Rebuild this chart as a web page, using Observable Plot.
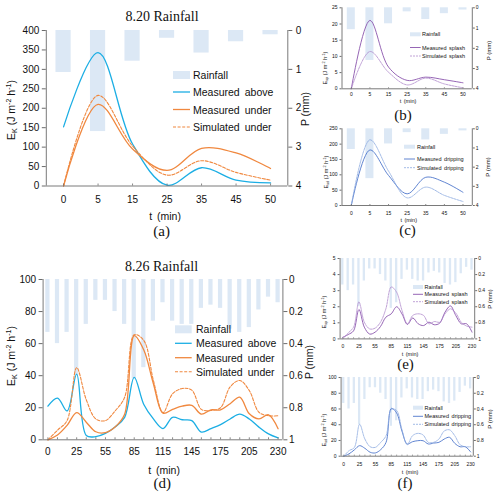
<!DOCTYPE html>
<html><head><meta charset="utf-8">
<script src="https://cdn.jsdelivr.net/npm/d3@7"></script>
<script src="https://cdn.jsdelivr.net/npm/@observablehq/plot@0.6"></script>
<style>
body{margin:0;background:#fff;}
#root{position:relative;width:500px;height:495px;overflow:hidden;background:#fff;}
</style></head><body><div id="root"></div>
<script>
// ---------- data: 8.20 rainfall ----------
const catsA = [0, 5, 15, 25, 35, 45, 50];
const rainA = [1.08, 2.6, 0.79, 0.2, 0.58, 0.29, 0.11];           // P (mm)
const aboveA = [152, 343, 108, 2, 47, 15, 8];                      // Measured above
const underA = [0, 210, 95, 40, 97, 85, 45];                       // Measured under
const simUnderA = [0, 233, 103, 28, 65, 35, 15];                   // Simulated under
const splashMeasB = [0, 21.1, 6.7, 2.6, 3.6, 2.8, 1.85];
const splashSimB = [0, 11.5, 5.1, 1.2, 3.3, 1.5, 0.3];
const dripMeasC = [0, 181, 98, 38, 92, 76, 43];
const dripSimC = [0, 214, 112, 25, 60, 33, 13];

// ---------- data: 8.26 rainfall ----------
const catsD = [0, 5, 15, 25, 35, 45, 55, 65, 75, 85, 95, 105, 115, 125, 135, 145, 155, 165, 175, 185, 195, 205, 215, 225, 230];
const rainD = [0.33, 0.40, 0.33, 0.60, 0.28, 0.13, 0.13, 0.20, 0.28, 0.62, 0.55, 0.26, 0.145, 0.26, 0.28, 0.28, 0.18, 0.16, 0.18, 0.31, 0.33, 0.30, 0.19, 0.11, 0.145];
const aboveD = [21, 26, 18, 41, 2.7, 2, 4, 8, 14, 39, 22, 13, 7, 14, 12.5, 12, 4.8, 7, 9.5, 13, 16, 13, 7.9, 3.7, 1.2];
const underD = [0, 3, 9, 17, 11, 5, 4.5, 8, 16, 65, 56, 35, 16.6, 19, 21, 21.5, 16, 18.7, 18.7, 22.5, 26.6, 16.2, 13, 15.6, 6.9];
const simUnderD = [0, 6, 12, 45, 25, 13, 12, 18, 26.5, 65.5, 62, 37, 17, 28.7, 32, 31, 19, 18.3, 20, 33, 37, 30.7, 17.2, 15, 15];
const splashMeasE = [0.1, 0.27, 0.5, 1.83, 0.73, 0.3, 0.42, 0.77, 1.35, 1.56, 2.0, 1.55, 0.9, 1.3, 0.94, 0.83, 1.04, 0.88, 0.98, 1.67, 2.05, 1.45, 0.94, 0.94, 0.42];
const splashSimE = [0, 0.37, 0.73, 2.3, 1.04, 0.62, 0.67, 1.04, 1.87, 3.23, 2.9, 1.77, 0.94, 1.46, 1.56, 1.46, 0.94, 1.08, 1.04, 1.56, 1.87, 1.6, 1.04, 0.8, 0.73];
const dripMeasF = [0, 3, 8, 13.4, 10, 5, 4.2, 8.4, 17.6, 60.7, 55, 32, 15.5, 18.4, 19.7, 19.7, 15.5, 16.7, 17.6, 21.8, 24, 16.3, 12, 12, 5.4];
const dripSimF = [0, 7, 11, 40.6, 21.8, 12, 11.3, 17.6, 26, 59.4, 58, 34, 14.6, 26, 29, 27, 17.6, 17.6, 21.8, 32, 33.5, 26, 14.6, 12, 12];

// ---------- tick labels ----------
const eTicksA = [0, 50, 100, 150, 200, 250, 300, 350, 400];
const eTicksB = [0, 5, 10, 15, 20, 25];
const eTicksC = [0, 50, 100, 150, 200, 250];
const eTicksD = [0, 20, 40, 60, 80, 100];
const eTicksE = [0, 1, 2, 3, 4, 5];
const eTicksF = [0, 20, 40, 60, 80, 100];
const pTicks4 = [0, 1, 2, 3, 4];
const pTicks1 = [0, 0.2, 0.4, 0.6, 0.8, 1];
const xLabelsD = [0, 25, 55, 85, 115, 145, 175, 205, 230];

const W = 500, H = 495;
const FONT = '"Liberation Sans", Arial, sans-serif';
const SERIF = '"Liberation Serif", "Times New Roman", serif';
const RAIN = "#dce8f5";
const AXIS = "#6b6b6b";
const C_ABOVE = "#1caee4", C_ORANGE = "#f0883f";
const C_SPL = "#8a55ad", C_SPL2 = "#b08acb";
const C_DRP = "#4f77cc", C_DRP2 = "#8ca9e0";

function fmt(v) { return String(Math.round(v * 100) / 100); }

function panel(o) {
  const n = o.cats.length, idx = d3.range(n);
  const [L, R, T, B] = o.frame;
  const Emax = o.Emax, Pmax = o.Pmax;
  const labelIdx = idx.filter(i => o.xLabels.includes(o.cats[i]));
  const marks = [
    Plot.rectY(idx, {x1: i => i - o.bw / 2, x2: i => i + o.bw / 2, y1: Emax, y2: i => Emax * (1 - o.rain[i] / Pmax), fill: RAIN}),
    ...o.series.map(s => Plot.line(idx, {x: i => i, y: i => s.values[i], stroke: s.color, strokeWidth: s.width, strokeDasharray: s.dash, curve: "catmull-rom"})),
    Plot.ruleX([-0.5, n - 0.5], {stroke: AXIS, strokeWidth: 0.9}),
    Plot.ruleY([0], {stroke: AXIS, strokeWidth: 0.9}),
    Plot.ruleX(idx, {x: i => i, y1: 0, y2: Emax * o.xt / (B - T), stroke: AXIS, strokeWidth: 0.8}),
    Plot.axisY(o.eTicks, {anchor: "left", tickSize: o.ts, tickPadding: o.tpL, label: null, stroke: AXIS, fill: "#111"}),
    Plot.axisY(o.pTicks.map(p => Emax * (1 - p / Pmax)), {anchor: "right", tickSize: o.ts, tickPadding: o.tpR, tickFormat: d => fmt(Pmax * (1 - d / Emax)), label: null, stroke: AXIS, fill: "#111"}),
    Plot.axisX(labelIdx, {anchor: "bottom", tickSize: 0, tickPadding: o.tpX, tickFormat: i => String(o.cats[i]), label: null, fill: "#111"})
  ];
  const svg = Plot.plot({
    width: W, height: H,
    marginLeft: L, marginRight: W - R, marginTop: T, marginBottom: H - B,
    x: {type: "linear", domain: [-0.5, n - 0.5], axis: null},
    y: {type: "linear", domain: [0, Emax], axis: null},
    style: {background: "transparent", overflow: "visible", fontFamily: FONT, fontSize: o.fs + "px", color: "#111"},
    marks
  });
  svg.style.position = "absolute"; svg.style.left = "0px"; svg.style.top = "0px";
  return svg;
}

const root = document.getElementById("root");
const big = {bw: 0.44, fs: 10, ts: 4, tpL: 3, tpR: 4, xt: 2};
const small = {bw: 0.43, fs: 5, ts: 2, tpL: 2.5, tpR: 1.5, xt: 1};

root.append(panel({...big, cats: catsA, xLabels: catsA, rain: rainA, frame: [45.8, 287.3, 30, 185.5], Emax: 400, Pmax: 4, eTicks: eTicksA, pTicks: pTicks4, tpX: 10,
  series: [{values: aboveA, color: C_ABOVE, width: 1.3}, {values: underA, color: C_ORANGE, width: 1.3}, {values: simUnderA, color: C_ORANGE, width: 1.1, dash: "3,1.6"}]}));
root.append(panel({...small, cats: catsA, xLabels: catsA, rain: rainA, frame: [341.5, 471.8, 7.3, 88.3], Emax: 25, Pmax: 4, eTicks: eTicksB, pTicks: pTicks4, tpX: 3.8,
  series: [{values: splashMeasB, color: C_SPL, width: 0.9}, {values: splashSimB, color: C_SPL2, width: 0.8, dash: "2,1"}]}));
root.append(panel({...small, cats: catsA, xLabels: catsA, rain: rainA, frame: [341.5, 471.8, 128.3, 205], Emax: 250, Pmax: 4, eTicks: eTicksC, pTicks: pTicks4, tpX: 5.8,
  series: [{values: dripMeasC, color: C_DRP, width: 0.9}, {values: dripSimC, color: C_DRP2, width: 0.8, dash: "2,1"}]}));
root.append(panel({...big, tpR: 2, cats: catsD, xLabels: xLabelsD, rain: rainD, frame: [42.6, 282.4, 279, 439.3], Emax: 100, Pmax: 1, eTicks: eTicksD, pTicks: pTicks1, tpX: 8.5,
  series: [{values: aboveD, color: C_ABOVE, width: 1.3}, {values: underD, color: C_ORANGE, width: 1.3}, {values: simUnderD, color: C_ORANGE, width: 1.1, dash: "3,1.6"}]}));
root.append(panel({...small, cats: catsD, xLabels: xLabelsD, rain: rainD, frame: [339.6, 474.2, 258, 338.4], Emax: 5, Pmax: 1, eTicks: eTicksE, pTicks: pTicks1, tpX: 5.8,
  series: [{values: splashMeasE, color: C_SPL, width: 0.9}, {values: splashSimE, color: C_SPL2, width: 0.8, dash: "2,1"}]}));
root.append(panel({...small, cats: catsD, xLabels: xLabelsD, rain: rainD, frame: [340.6, 472.8, 377, 455.7], Emax: 100, Pmax: 1, eTicks: eTicksF, pTicks: pTicks1, tpX: 6.3,
  series: [{values: dripMeasF, color: C_DRP, width: 0.9}, {values: dripSimF, color: C_DRP2, width: 0.8, dash: "2,1"}]}));

// ---------- overlay text & legends ----------
const ov = d3.select(root).append("svg").attr("width", W).attr("height", H)
  .style("position", "absolute").style("left", 0).style("top", 0)
  .attr("font-family", FONT).attr("fill", "#111");

function txt(x, y, s, fs, opts = {}) {
  return ov.append("text").attr("x", x).attr("y", y).attr("font-size", fs)
    .attr("text-anchor", opts.anchor || "middle")
    .attr("dominant-baseline", opts.base || "central")
    .attr("font-family", opts.family || FONT)
    .attr("word-spacing", opts.ws || 0)
    .text(s);
}
function eLabel(cx, cy, fs, sub) {
  const t = ov.append("text").attr("transform", `translate(${cx + fs * 0.35},${cy}) rotate(-90)`)
    .attr("text-anchor", "middle").attr("font-size", fs);
  t.append("tspan").text("E");
  t.append("tspan").attr("font-size", fs * 0.68).attr("dy", fs * 0.22).text(sub);
  t.append("tspan").attr("dy", -fs * 0.22).text(" (J m");
  t.append("tspan").attr("font-size", fs * 0.68).attr("dy", -fs * 0.38).text("-2");
  t.append("tspan").attr("dy", fs * 0.38).text(" h");
  t.append("tspan").attr("font-size", fs * 0.68).attr("dy", -fs * 0.38).text("-1");
  t.append("tspan").attr("dy", fs * 0.38).text(")");
}
function pLabel(cx, cy, fs) {
  ov.append("text").attr("transform", `translate(${cx + fs * 0.35},${cy}) rotate(-90)`)
    .attr("text-anchor", "middle").attr("font-size", fs).text("P (mm)");
}
function legend(x1, x2, tx, fs, sw, items) {
  items.forEach(it => {
    if (it.rain) {
      ov.append("rect").attr("x", x1).attr("y", it.y - sw / 2).attr("width", x2 - x1).attr("height", sw).attr("fill", RAIN);
    } else {
      ov.append("line").attr("x1", x1).attr("x2", x2).attr("y1", it.y).attr("y2", it.y)
        .attr("stroke", it.color).attr("stroke-width", it.w).attr("stroke-dasharray", it.dash || null);
    }
    txt(tx, it.y, it.label, fs, {anchor: "start", ws: fs * 0.2});
  });
}

// panel (a)
txt(162, 16.5, "8.20 Rainfall", 14, {family: SERIF});
eLabel(11.5, 110, 10.5, "K");
pLabel(305, 109, 10.5);
txt(165, 216, "t  (min)", 10.5, {ws: 2});
txt(161.7, 230.5, "(a)", 15, {family: SERIF});
legend(173, 190, 193, 10.5, 8, [
  {rain: true, y: 75, label: "Rainfall"},
  {y: 92, color: C_ABOVE, w: 1.3, label: "Measured above"},
  {y: 109.5, color: C_ORANGE, w: 1.3, label: "Measured under"},
  {y: 127, color: C_ORANGE, w: 1.1, dash: "3,1.6", label: "Simulated under"}
]);
// panel (d)
txt(161.5, 266.5, "8.26 Rainfall", 14, {family: SERIF});
eLabel(11.5, 356, 10.5, "K");
pLabel(309, 362, 10.5);
txt(164, 470, "t  (min)", 10.5, {ws: 2});
txt(162.3, 482.7, "(d)", 15, {family: SERIF});
legend(175, 191.7, 196, 10.5, 8, [
  {rain: true, y: 329.3, label: "Rainfall"},
  {y: 343.3, color: C_ABOVE, w: 1.3, label: "Measured above"},
  {y: 357.7, color: C_ORANGE, w: 1.3, label: "Measured under"},
  {y: 371.7, color: C_ORANGE, w: 1.1, dash: "3,1.6", label: "Simulated under"}
]);
// panel (b)
eLabel(325, 68, 5.5, "sp");
pLabel(489, 50.5, 6);
txt(408, 101.3, "t  (min)", 5.5, {ws: 1});
txt(403, 115, "(b)", 15, {family: SERIF});
legend(410, 420.7, 422, 5.5, 4, [
  {rain: true, y: 34.3, label: "Rainfall"},
  {y: 47.5, color: C_SPL, w: 0.9, label: "Measured splash"},
  {y: 56, color: C_SPL2, w: 0.8, dash: "2,1", label: "Simulated splash"}
]);
// panel (c)
eLabel(326, 172, 5.5, "sd");
pLabel(488, 167, 6);
txt(408.7, 220.3, "t  (min)", 5.5, {ws: 1});
txt(407.5, 230, "(c)", 15, {family: SERIF});
legend(404, 415, 417, 5.5, 4, [
  {rain: true, y: 146.7, label: "Rainfall"},
  {y: 159, color: C_DRP, w: 0.9, label: "Measured dripping"},
  {y: 167.7, color: C_DRP2, w: 0.8, dash: "2,1", label: "Simulated dripping"}
]);
// panel (e)
eLabel(324, 312, 5.5, "sp");
pLabel(489.7, 299, 6);
txt(410, 353.7, "t  (min)", 5.5, {ws: 1});
txt(405.5, 363.5, "(e)", 15, {family: SERIF});
legend(413, 423, 424.5, 5.5, 4, [
  {rain: true, y: 287, label: "Rainfall"},
  {y: 294.3, color: C_SPL, w: 0.9, label: "Measured splash"},
  {y: 301.7, color: C_SPL2, w: 0.8, dash: "2,1", label: "Simulated splash"}
]);
// panel (f)
eLabel(324, 430, 5.5, "sd");
pLabel(489.7, 419, 6);
txt(410, 472.3, "t  (min)", 5.5, {ws: 1});
txt(405, 482.5, "(f)", 15, {family: SERIF});
legend(413, 423, 424.5, 5.5, 4, [
  {rain: true, y: 407.7, label: "Rainfall"},
  {y: 416.3, color: C_DRP, w: 0.9, label: "Measured dripping"},
  {y: 424.3, color: C_DRP2, w: 0.8, dash: "2,1", label: "Simulated dripping"}
]);
</script></body></html>
